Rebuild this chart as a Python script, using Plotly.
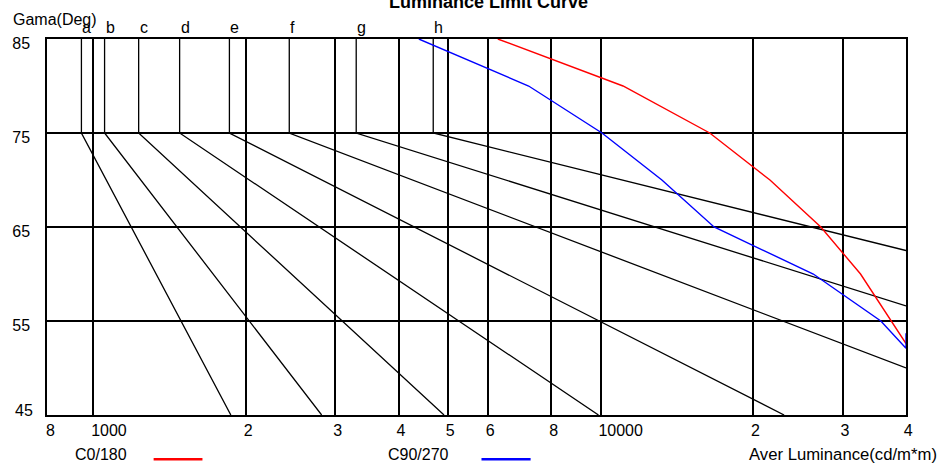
import plotly.graph_objects as go
import math

# ---------------- data ----------------
# limit lines a..h : luminance at gamma 85..75, then end point of the slope
letters = ["a", "b", "c", "d", "e", "f", "g", "h"]
letter_lum = [947, 1052, 1228, 1479, 1854, 2433, 3297, 4677]
end_lum = [1866, 2818, 4912, 9903, 23000, 40000, 40000, 40000]
end_gamma = [45, 45, 45, 45, 45, 50.0, 56.6, 62.5]

# measured curves
c0_lum = [6270, 11070, 16410, 21570, 27170, 32540, 40000]
c0_gamma = [85, 80, 75, 70, 65, 60, 52.6]
c90_lum = [4381, 7213, 10060, 13206, 16735, 26260, 35680, 40000, 40000]
c90_gamma = [85, 80, 75, 70, 65, 60, 55, 52.1, 53.7]

x_tickvals = [1000, 2000, 3000, 4000, 5000, 6000, 8000, 10000, 20000, 30000, 40000]
x_ticktext = ["1000", "2", "3", "4", "5", "6", "8", "10000", "2", "3", "4"]
y_tickvals = [55, 65, 75, 85]

FONT = "Liberation Sans, Arial, sans-serif"

fig = go.Figure()

for L, v, ex, ey in zip(letters, letter_lum, end_lum, end_gamma):
    fig.add_trace(go.Scatter(x=[v, v, ex], y=[85, 75, ey], mode="lines",
                             line=dict(color="black", width=1.3),
                             showlegend=False, hoverinfo="skip"))

fig.add_trace(go.Scatter(x=c0_lum, y=c0_gamma, mode="lines", name="C0/180",
                         line=dict(color="#ff0000", width=1.4), showlegend=False))
fig.add_trace(go.Scatter(x=c90_lum, y=c90_gamma, mode="lines", name="C90/270",
                         line=dict(color="#0000ff", width=1.4), showlegend=False))

W, H = 939, 466
ML, MR, MT, MB = 44, 33, 39, 51
PW, PH = W - ML - MR, H - MT - MB


def px(xp):
    return (xp - ML) / PW


def py(yp):
    return (H - MB - yp) / PH


ann = [
    dict(text="<b>Luminance Limit Curve</b>", x=px(487), y=py(2), xanchor="center", yanchor="middle",
         font=dict(size=18)),
    dict(text="Gama(Deg)", x=px(8), y=py(19.5), xanchor="left", yanchor="middle", font=dict(size=16)),
    dict(text="8", x=px(40.5), y=py(430), xanchor="left", yanchor="middle", font=dict(size=16)),
    dict(text="45", x=px(32), y=py(410.5), xanchor="right", yanchor="middle", font=dict(size=16)),
    dict(text="C0/180", x=px(70), y=py(454), xanchor="left", yanchor="middle", font=dict(size=16)),
    dict(text="C90/270", x=px(384.5), y=py(454), xanchor="left", yanchor="middle", font=dict(size=16)),
    dict(text="Aver Luminance(cd/m*m)", x=px(939), y=py(454), xanchor="right", yanchor="middle",
         font=dict(size=16.7)),
]
for a in ann:
    a.update(xref="paper", yref="paper", showarrow=False)
    a["font"].update(family=FONT, color="black")

# letter labels above the limit lines (data coordinates)
for L, v in zip(letters, letter_lum):
    ann.append(dict(text=L, x=math.log10(v), y=85, xref="x", yref="y", xanchor="left",
                    yanchor="bottom", yshift=1, xshift=-1, showarrow=False,
                    font=dict(size=16, family=FONT, color="black")))

shapes = [
    dict(type="line", xref="paper", yref="paper", x0=px(151), x1=px(200), y0=py(459.3), y1=py(459.3),
         line=dict(color="#ff0000", width=2.5)),
    dict(type="line", xref="paper", yref="paper", x0=px(480), x1=px(529.3), y0=py(459.3), y1=py(459.3),
         line=dict(color="#0000ff", width=2.5)),
]

fig.update_layout(
    width=W, height=H,
    margin=dict(l=ML, r=MR, t=MT, b=MB, pad=0),
    paper_bgcolor="white", plot_bgcolor="white",
    font=dict(family=FONT, size=16, color="black"),
    annotations=ann, shapes=shapes,
    showlegend=False,
)
fig.update_xaxes(type="log", range=[math.log10(810), math.log10(40000)],
                 tickvals=x_tickvals, ticktext=x_ticktext, ticklabelposition="outside right",
                 ticklabelshift=-3,
                 showgrid=True, gridcolor="black", gridwidth=1.5,
                 showline=True, linecolor="black", linewidth=1.5, mirror=True,
                 ticks="", zeroline=False, tickfont=dict(size=16))
fig.update_yaxes(range=[45, 85], tickvals=y_tickvals, ticklabelshift=4,
                 showgrid=True, gridcolor="black", gridwidth=1.5,
                 showline=True, linecolor="black", linewidth=1.5, mirror=True,
                 ticks="", zeroline=False, tickfont=dict(size=16), ticklabelstandoff=12)
# horizontal grid line at 45 is the frame itself
fig.write_html("out.html", config={"displayModeBar": False},
               post_script="document.body.style.margin='0';")
